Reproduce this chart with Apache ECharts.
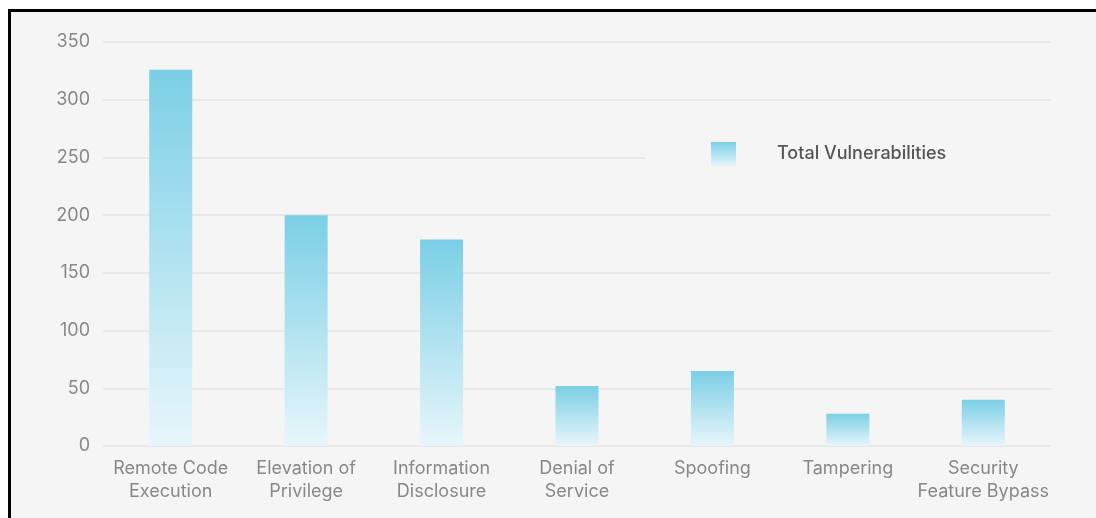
<!DOCTYPE html>
<html>
<head>
<meta charset="utf-8">
<script src="https://cdn.jsdelivr.net/npm/echarts@6/dist/echarts.min.js"></script>
<style>
  html, body { margin: 0; padding: 0; background: #fff; overflow: hidden; }
  #frame { position: absolute; left: 8px; top: 9px; width: 1200px; height: 600px; border: 3px solid #000; background: #f5f5f5; }
  #main { position: absolute; left: 0; top: 0; width: 1096px; height: 518px; }
</style>
</head>
<body>
<div id="frame"></div>
<div id="main"></div>
<script>
// categories and counts
var categories = ['Remote Code\nExecution', 'Elevation of\nPrivilege', 'Information\nDisclosure', 'Denial of\nService', 'Spoofing', 'Tampering', 'Security\nFeature Bypass']
var totals = [326, 200, 179, 52, 65, 28, 40]
var yTicks = [0, 50, 100, 150, 200, 250, 300, 350]

var barColor = {
  type: 'linear', x: 0, y: 0, x2: 0, y2: 1,
  colorStops: [{ offset: 0, color: '#7bcfe6' }, { offset: 1, color: '#e8f6fb' }]
}

var myBar = echarts.init(document.getElementById('main'))
myBar.setOption({
  backgroundColor: 'transparent',
  textStyle: { fontFamily: 'Inter' },
  grid: { left: 103, right: 45, top: 42, bottom: 72, containLabel: false },
  legend: {
    left: 645,
    top: 130,
    padding: [12, 120, 12, 66],
    backgroundColor: '#f5f5f5',
    itemWidth: 25,
    itemHeight: 24,
    icon: 'rect',
    textStyle: { color: '#555', fontSize: 18, fontWeight: 500, padding: [0, 0, 0, 36] },
    data: ['Total Vulnerabilities']
  },
  xAxis: {
    type: 'category',
    data: categories,
    axisLine: { show: false },
    axisTick: { show: false },
    axisLabel: { color: '#888', fontSize: 18, lineHeight: 23, margin: 11, interval: 0 }
  },
  yAxis: {
    type: 'value',
    min: yTicks[0],
    max: yTicks[yTicks.length - 1],
    interval: 50,
    axisLine: { show: false },
    axisTick: { show: false },
    axisLabel: { color: '#888', fontSize: 18, margin: 13 },
    splitLine: { lineStyle: { color: '#e3e3e3', width: 1.5 } }
  },
  series: [{
    name: 'Total Vulnerabilities',
    type: 'bar',
    barWidth: 43,
    data: totals,
    itemStyle: { color: barColor }
  }]
})
</script>
</body>
</html>
